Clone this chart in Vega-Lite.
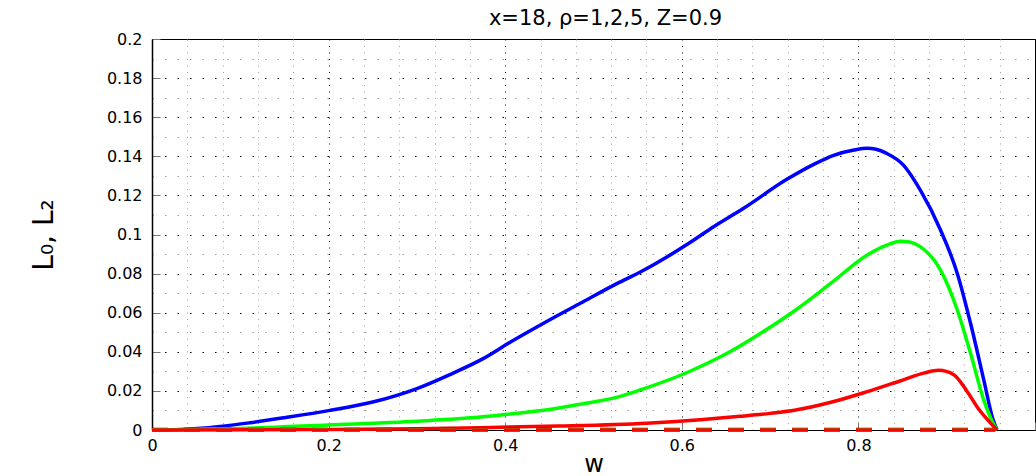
{
  "$schema": "https://vega.github.io/schema/vega-lite/v6.json",
  "width": 883,
  "height": 391,
  "autosize": {"type": "none"},
  "padding": {"left": 152, "top": 39, "right": 1, "bottom": 46},
  "background": "white",
  "config": {"view": {"stroke": "#000", "strokeWidth": 1}, "font": "DejaVu Sans"},
  "title": {"text": "x=18, ρ=1,2,5, Z=0.9", "fontSize": 21, "fontWeight": "normal", "font": "DejaVu Sans", "color": "#000", "baseline": "alphabetic", "offset": -15, "dx": 12, "anchor": "middle"},
  "datasets": {
    "curves": [
      {"w": 0, "L": 0, "rho": "1"},
      {"w": 0.034, "L": 0.0003, "rho": "1"},
      {"w": 0.06, "L": 0.001, "rho": "1"},
      {"w": 0.08, "L": 0.0019, "rho": "1"},
      {"w": 0.111, "L": 0.0037, "rho": "1"},
      {"w": 0.15, "L": 0.0063, "rho": "1"},
      {"w": 0.2, "L": 0.0099, "rho": "1"},
      {"w": 0.25, "L": 0.0143, "rho": "1"},
      {"w": 0.3, "L": 0.0212, "rho": "1"},
      {"w": 0.338, "L": 0.0285, "rho": "1"},
      {"w": 0.375, "L": 0.0365, "rho": "1"},
      {"w": 0.406, "L": 0.045, "rho": "1"},
      {"w": 0.445, "L": 0.055, "rho": "1"},
      {"w": 0.485, "L": 0.0648, "rho": "1"},
      {"w": 0.527, "L": 0.075, "rho": "1"},
      {"w": 0.553, "L": 0.0808, "rho": "1"},
      {"w": 0.608, "L": 0.0955, "rho": "1"},
      {"w": 0.636, "L": 0.104, "rho": "1"},
      {"w": 0.67, "L": 0.1134, "rho": "1"},
      {"w": 0.719, "L": 0.1282, "rho": "1"},
      {"w": 0.75, "L": 0.136, "rho": "1"},
      {"w": 0.772, "L": 0.1405, "rho": "1"},
      {"w": 0.795, "L": 0.1432, "rho": "1"},
      {"w": 0.81, "L": 0.1441, "rho": "1"},
      {"w": 0.82, "L": 0.1436, "rho": "1"},
      {"w": 0.832, "L": 0.1415, "rho": "1"},
      {"w": 0.851, "L": 0.1355, "rho": "1"},
      {"w": 0.87, "L": 0.1228, "rho": "1"},
      {"w": 0.893, "L": 0.1023, "rho": "1"},
      {"w": 0.912, "L": 0.0801, "rho": "1"},
      {"w": 0.927, "L": 0.0546, "rho": "1"},
      {"w": 0.942, "L": 0.0256, "rho": "1"},
      {"w": 0.952, "L": 0.006, "rho": "1"},
      {"w": 0.957, "L": 0, "rho": "1"},
      {"w": 0, "L": 0, "rho": "2"},
      {"w": 0.034, "L": 0.0002, "rho": "2"},
      {"w": 0.1, "L": 0.0008, "rho": "2"},
      {"w": 0.2, "L": 0.0026, "rho": "2"},
      {"w": 0.3, "L": 0.0045, "rho": "2"},
      {"w": 0.372, "L": 0.0066, "rho": "2"},
      {"w": 0.406, "L": 0.0082, "rho": "2"},
      {"w": 0.45, "L": 0.0105, "rho": "2"},
      {"w": 0.485, "L": 0.0132, "rho": "2"},
      {"w": 0.527, "L": 0.0168, "rho": "2"},
      {"w": 0.553, "L": 0.0205, "rho": "2"},
      {"w": 0.608, "L": 0.0298, "rho": "2"},
      {"w": 0.647, "L": 0.0382, "rho": "2"},
      {"w": 0.689, "L": 0.0494, "rho": "2"},
      {"w": 0.729, "L": 0.0614, "rho": "2"},
      {"w": 0.77, "L": 0.0755, "rho": "2"},
      {"w": 0.81, "L": 0.0895, "rho": "2"},
      {"w": 0.832, "L": 0.0946, "rho": "2"},
      {"w": 0.848, "L": 0.0966, "rho": "2"},
      {"w": 0.858, "L": 0.0962, "rho": "2"},
      {"w": 0.87, "L": 0.0938, "rho": "2"},
      {"w": 0.893, "L": 0.0818, "rho": "2"},
      {"w": 0.912, "L": 0.0614, "rho": "2"},
      {"w": 0.927, "L": 0.0392, "rho": "2"},
      {"w": 0.942, "L": 0.0153, "rho": "2"},
      {"w": 0.952, "L": 0.004, "rho": "2"},
      {"w": 0.957, "L": 0, "rho": "2"},
      {"w": 0, "L": 0, "rho": "5"},
      {"w": 0.034, "L": 0, "rho": "5"},
      {"w": 0.2, "L": 0.0003, "rho": "5"},
      {"w": 0.3, "L": 0.0007, "rho": "5"},
      {"w": 0.372, "L": 0.0012, "rho": "5"},
      {"w": 0.46, "L": 0.002, "rho": "5"},
      {"w": 0.56, "L": 0.0035, "rho": "5"},
      {"w": 0.621, "L": 0.0053, "rho": "5"},
      {"w": 0.666, "L": 0.007, "rho": "5"},
      {"w": 0.7, "L": 0.0085, "rho": "5"},
      {"w": 0.729, "L": 0.0102, "rho": "5"},
      {"w": 0.77, "L": 0.0143, "rho": "5"},
      {"w": 0.81, "L": 0.0196, "rho": "5"},
      {"w": 0.848, "L": 0.0252, "rho": "5"},
      {"w": 0.875, "L": 0.0292, "rho": "5"},
      {"w": 0.891, "L": 0.0305, "rho": "5"},
      {"w": 0.908, "L": 0.0283, "rho": "5"},
      {"w": 0.922, "L": 0.0205, "rho": "5"},
      {"w": 0.937, "L": 0.0102, "rho": "5"},
      {"w": 0.95, "L": 0.0034, "rho": "5"},
      {"w": 0.957, "L": 0, "rho": "5"}
    ],
    "dashed": [
      {"w": 0, "L": 0.0002, "rho": "1"},
      {"w": 0.955, "L": 0.0002, "rho": "1"},
      {"w": 0, "L": 0.0001, "rho": "2"},
      {"w": 0.955, "L": 0.0001, "rho": "2"},
      {"w": 0, "L": 0, "rho": "5"},
      {"w": 0.955, "L": 0, "rho": "5"}
    ]
  },
  "encoding": {
    "x": {
      "field": "w", "type": "quantitative",
      "scale": {"domain": [0, 1], "nice": false, "zero": false},
      "axis": {
        "values": [0, 0.04, 0.08, 0.12, 0.16, 0.2, 0.24, 0.28, 0.32, 0.36, 0.4, 0.44, 0.48, 0.52, 0.56, 0.6, 0.64, 0.68, 0.72, 0.76, 0.8, 0.84, 0.88, 0.92, 0.96, 1],
        "labelExpr": "(abs(datum.value*5-round(datum.value*5))<0.001 && datum.value<0.99) ? format(datum.value, '~g') : ''",
        "grid": true,
        "gridColor": {"condition": {"test": "abs(datum.value*5-round(datum.value*5))<0.001", "value": "#000000"}, "value": "#a0a0a0"},
        "gridDash": [1, 5.5],
        "gridWidth": 1,
        "domainColor": "#000", "domainWidth": 1,
        "tickColor": "#777",
        "tickOpacity": {"condition": {"test": "abs(datum.value*5-round(datum.value*5))<0.001", "value": 1}, "value": 0},
        "tickSize": -8,
        "labelPadding": 15,
        "labelFontSize": 16, "labelColor": "#000", "labelFont": "DejaVu Sans",
        "labelFlush": false, "labelOverlap": false,
        "title": "w", "titleFontSize": 24, "titleFontWeight": "normal", "titleColor": "#000", "titleFont": "DejaVu Sans",
        "titleBaseline": "alphabetic", "titleY": 41
      }
    },
    "y": {
      "field": "L", "type": "quantitative",
      "scale": {"domain": [0, 0.2], "nice": false, "zero": true},
      "axis": {
        "values": [0, 0.01, 0.02, 0.03, 0.04, 0.05, 0.06, 0.07, 0.08, 0.09, 0.1, 0.11, 0.12, 0.13, 0.14, 0.15, 0.16, 0.17, 0.18, 0.19, 0.2],
        "labelExpr": "abs(datum.value*50-round(datum.value*50))<0.001 ? format(datum.value, '~g') : ''",
        "grid": true,
        "gridColor": {"condition": {"test": "abs(datum.value*50-round(datum.value*50))<0.001", "value": "#000000"}, "value": "#a0a0a0"},
        "gridDash": [1.5, 11],
        "gridWidth": 1,
        "domainColor": "#000", "domainWidth": 1.5,
        "tickColor": "#777",
        "tickOpacity": {"condition": {"test": "abs(datum.value*50-round(datum.value*50))<0.001", "value": 1}, "value": 0},
        "tickSize": -8,
        "labelPadding": 18,
        "labelFontSize": 16, "labelColor": "#000", "labelFont": "DejaVu Sans",
        "labelFlush": false, "labelOverlap": false,
        "title": "L₀, L₂", "titleFontSize": 28, "titleFontWeight": "normal", "titleColor": "#000", "titleFont": "DejaVu Sans",
        "titleAngle": -90, "titleBaseline": "middle", "titleAlign": "center", "titleX": -108, "titleY": 195.5
      }
    },
    "color": {
      "field": "rho", "type": "nominal",
      "scale": {"domain": ["1", "2", "5"], "range": ["#0000ff", "#00ff00", "#ff0000"]},
      "legend": null
    }
  },
  "layer": [
    {
      "data": {"name": "curves"},
      "mark": {"type": "line", "strokeWidth": 3.5, "clip": false, "interpolate": "monotone"}
    },
    {
      "data": {"name": "dashed"},
      "mark": {"type": "line", "strokeWidth": 3.5, "strokeDash": [16, 16], "clip": false}
    }
  ]
}
